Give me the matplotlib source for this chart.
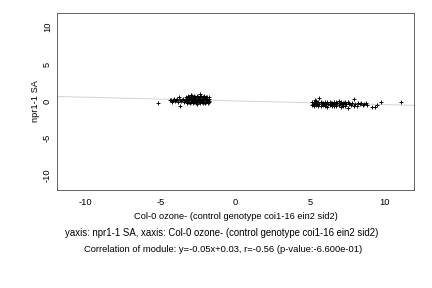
import matplotlib
matplotlib.use('Agg')
import matplotlib.pyplot as plt

plt.rcParams['font.family'] = ['Liberation Sans', 'DejaVu Sans']
plt.rcParams['axes.unicode_minus'] = False

# left group of genes
x_left = [-3.30, -3.20, -3.10, -3.00, -2.90, -2.80, -2.70, -2.60, -2.50, -2.40, -2.30, -2.20, -2.10, -2.00, -1.90, -1.80,
          -3.25, -3.15, -3.05, -2.95, -2.85, -2.75, -2.65, -2.55, -2.45, -2.35, -2.25, -2.15, -2.05, -1.95, -1.85, -1.80,
          -3.30, -3.20, -3.10, -3.00, -2.90, -2.80, -2.70, -2.60, -2.50, -2.40, -2.30, -2.20, -2.10, -2.00, -1.90, -1.80,
          -3.25, -3.15, -3.05, -2.95, -2.85, -2.75, -2.65, -2.55, -2.45, -2.35, -2.25, -2.15, -2.05, -1.95, -1.85, -1.80,
          -4.40, -4.30, -4.20, -4.10, -4.00, -3.90, -3.80, -3.70, -3.60, -3.50, -3.40,
          -4.25, -4.05, -3.85, -3.65, -3.45,
          -5.20, -3.72, -3.00, -2.40]
y_left = [0.60, 0.70, 0.55, 0.80, 0.65, 0.70, 0.60, 0.75, 0.50, 0.70, 0.65, 0.60, 0.70, 0.55, 0.60, 0.50,
          0.35, 0.30, 0.40, 0.25, 0.45, 0.30, 0.35, 0.20, 0.40, 0.30, 0.35, 0.25, 0.40, 0.30, 0.20, 0.35,
          0.05, 0.10, -0.05, 0.15, 0.00, 0.10, 0.05, -0.10, 0.10, 0.00, 0.05, 0.15, -0.05, 0.10, 0.00, 0.05,
          -0.20, -0.10, -0.25, -0.15, -0.30, -0.10, -0.20, -0.35, -0.15, -0.25, -0.10, -0.30, -0.20, -0.15, -0.25, -0.10,
          0.10, 0.15, 0.20, 0.30, 0.10, 0.25, 0.50, 0.20, 0.10, 0.30, 0.20,
          -0.05, 0.00, -0.10, 0.05, -0.05,
          -0.25, -0.65, 0.85, 0.90]

# right group of genes
x_right = [5.10, 5.25, 5.40, 5.55, 5.70, 5.85, 6.00, 6.15, 6.30, 6.45, 6.60, 6.75, 6.90, 7.05, 7.20, 7.35, 7.50,
           5.17, 5.32, 5.47, 5.62, 5.77, 5.92, 6.07, 6.22, 6.37, 6.52, 6.67, 6.82, 6.97, 7.12, 7.27, 7.42, 7.57,
           5.10, 5.25, 5.40, 5.55, 5.70, 5.85, 6.00, 6.15, 6.30, 6.45, 6.60, 6.75, 6.90, 7.05, 7.20, 7.35, 7.50,
           7.60, 7.70, 7.80, 7.90, 7.95, 8.00, 8.10, 8.20, 8.30, 8.40, 8.50, 8.60, 8.75, 8.80,
           9.10, 9.35, 9.45, 9.75, 11.10, 5.60, 5.30]
y_right = [-0.10, -0.15, 0.00, -0.05, -0.10, -0.20, -0.10, -0.15, -0.05, -0.20, -0.10, -0.15, 0.00, -0.10, -0.20, -0.15, -0.10,
           -0.35, -0.30, -0.40, -0.35, -0.30, -0.45, -0.35, -0.40, -0.30, -0.35, -0.45, -0.30, -0.40, -0.35, -0.30, -0.45, -0.40,
           -0.55, -0.60, -0.50, -0.65, -0.70, -0.55, -0.60, -0.75, -0.50, -0.60, -0.65, -0.70, -0.55, -0.80, -0.60, -0.70, -0.90,
           -0.30, -0.50, -0.20, 0.30, -0.60, -0.40, -0.70, -0.30, -0.45, -0.25, -0.50, -0.35, -0.20, -0.50,
           -0.75, -0.85, -0.50, -0.10, -0.10, 0.40, 0.10]

slope = -0.05
intercept = 0.03

xlab = 'Col-0 ozone- (control genotype coi1-16 ein2 sid2)'
ylab = 'npr1-1 SA'
line1 = 'yaxis: npr1-1 SA, xaxis: Col-0 ozone- (control genotype coi1-16 ein2 sid2)'
line2 = 'Correlation of module: y=-0.05x+0.03, r=-0.56 (p-value:-6.600e-01)'

fig = plt.figure(figsize=(6, 4), dpi=72)
ax = fig.add_axes([0.132, 0.340, 0.826, 0.615])

xlim = (-11.93, 11.93)
ax.plot(xlim, [slope * v + intercept for v in xlim], color='#d4d4d4', lw=1, zorder=1)
ax.scatter(x_left + x_right, y_left + y_right, marker='+', s=18, c='black', linewidths=0.9, zorder=2)

ax.set_xlim(*xlim)
ax.set_ylim(-12, 11.9)
ax.set_xticks([-10, -5, 0, 5, 10])
ax.set_yticks([-10, -5, 0, 5, 10])
ax.tick_params(length=0, labelsize=9.2, pad=8)
ax.tick_params(axis='y', labelrotation=90, pad=5)
for lab in ax.get_yticklabels():
    lab.set_va('center')
for s in ax.spines.values():
    s.set_color('#444444')
    s.set_linewidth(0.8)

ax.set_xlabel(xlab, fontsize=9.3, labelpad=5)
ax.set_ylabel(ylab, fontsize=9.3, labelpad=3)
fig.text(0.514, 0.191, line1, ha='center', va='center', fontsize=9.6)
fig.text(0.517, 0.132, line2, ha='center', va='center', fontsize=9.4)

fig.savefig('out.png', dpi=72)
